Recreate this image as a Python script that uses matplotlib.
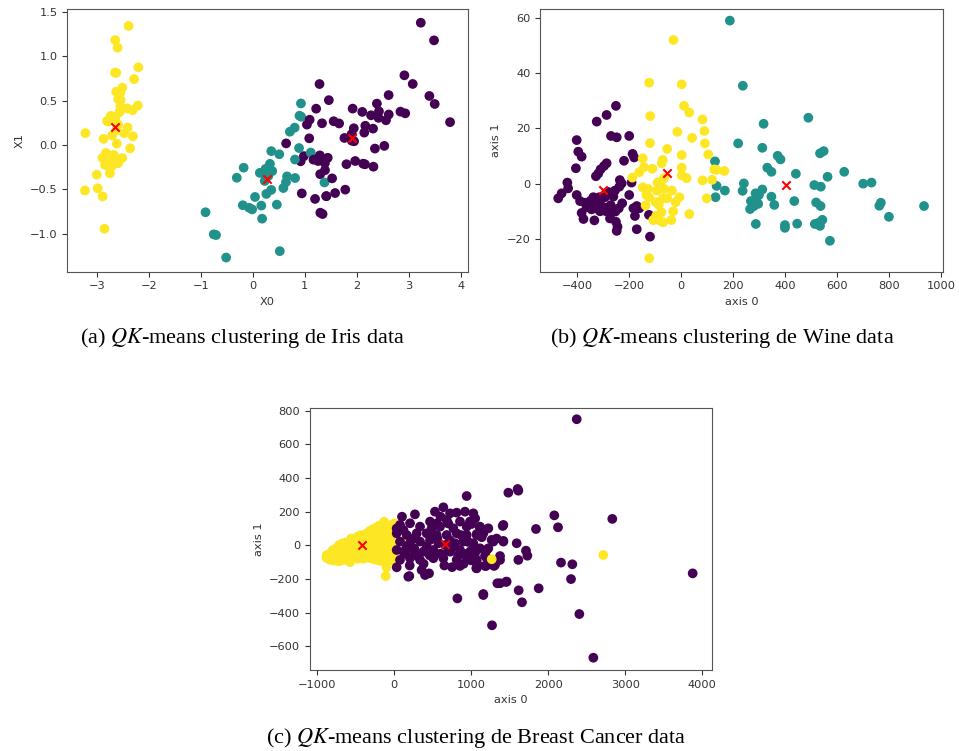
import matplotlib
matplotlib.use('Agg')
import matplotlib.pyplot as plt
import numpy as np

plt.rcParams['font.family'] = ['DejaVu Sans']
plt.rcParams['mathtext.fontset'] = 'stix'

# ---------------- (a) Iris ----------------
iris_x0 = [
    -2.684, -2.714, -2.889, -2.745, -2.729, -2.281, -2.821, -2.626, -2.886, -2.673,
    -2.507, -2.613, -2.787, -3.225, -2.644, -2.386, -2.624, -2.648, -2.199, -2.587,
    -2.311, -2.544, -3.216, -2.303, -2.356, -2.507, -2.469, -2.562, -2.640, -2.633,
    -2.588, -2.410, -2.648, -2.597, -2.673, -2.867, -2.625, -2.800, -2.980, -2.590,
    -2.770, -2.850, -2.998, -2.406, -2.209, -2.715, -2.538, -2.840, -2.543, -2.703,
    1.285, 0.932, 1.464, 0.181, 1.087, 0.640, 1.095, -0.749, 1.043, -0.010,
    -0.511, 0.511, 0.262, 0.984, -0.174, 0.928, 0.660, 0.236, 0.944, 0.045,
    1.116, 0.357, 1.298, 0.922, 0.715, 0.900, 1.333, 1.557, 0.813, -0.306,
    -0.068, -0.190, 0.137, 1.380, 0.589, 0.807, 1.220, 0.815, 0.246, 0.166,
    0.464, 0.891, 0.231, -0.705, 0.357, 0.332, 0.376, 0.643, -0.907, 0.300,
    2.531, 1.415, 2.616, 1.971, 2.350, 3.397, 0.521, 2.933, 2.321, 2.917,
    1.662, 1.803, 2.165, 1.344, 1.585, 1.905, 1.949, 3.487, 3.795, 1.300,
    2.428, 1.199, 3.500, 1.388, 2.276, 2.614, 1.258, 1.291, 2.123, 2.388,
    2.841, 3.232, 2.159, 1.443, 1.780, 3.077, 2.145, 1.905, 1.169, 2.107,
    2.314, 1.922, 1.415, 2.563, 2.419, 1.944, 1.527, 1.764, 1.901, 1.390]
iris_x1 = [
    0.319, -0.177, -0.145, -0.318, 0.327, 0.741, -0.089, 0.163, -0.578, -0.114,
    0.645, 0.015, -0.235, -0.511, 1.179, 1.338, 0.811, 0.312, 0.873, 0.514,
    0.391, 0.433, 0.133, 0.098, -0.037, -0.146, 0.131, 0.368, 0.312, -0.196,
    -0.204, 0.411, 0.813, 1.093, -0.114, 0.069, 0.599, 0.269, -0.487, 0.229,
    0.264, -0.941, -0.334, 0.196, 0.443, -0.243, 0.504, -0.223, 0.588, 0.107,
    0.685, 0.318, 0.504, -0.828, 0.075, -0.418, 0.284, -1.004, 0.229, -0.724,
    -1.265, -0.104, -0.550, -0.125, -0.255, 0.467, -0.353, -0.333, -0.544, -0.584,
    -0.085, -0.069, -0.328, -0.183, 0.149, 0.329, 0.244, 0.267, -0.163, -0.368,
    -0.706, -0.677, -0.313, -0.421, -0.484, 0.195, 0.408, -0.371, -0.269, -0.681,
    -0.670, -0.034, -0.404, -1.012, -0.505, -0.212, -0.293, 0.018, -0.756, -0.349,
    -0.010, -0.575, 0.343, -0.180, -0.040, 0.551, -1.193, 0.356, -0.244, 0.783,
    0.242, -0.216, 0.216, -0.776, -0.540, 0.120, 0.042, 1.176, 0.257, -0.761,
    0.378, -0.606, 0.461, -0.204, 0.334, 0.561, -0.180, -0.117, -0.210, 0.465,
    0.375, 1.374, -0.217, -0.144, -0.502, 0.686, 0.139, 0.049, -0.165, 0.372,
    0.184, 0.409, -0.575, 0.278, 0.305, 0.188, -0.375, 0.079, 0.117, -0.283]
iris_cluster = [
    2, 2, 2, 2, 2, 2, 2, 2, 2, 2, 2, 2, 2, 2, 2, 2, 2, 2, 2, 2, 2, 2, 2, 2, 2,
    2, 2, 2, 2, 2, 2, 2, 2, 2, 2, 2, 2, 2, 2, 2, 2, 2, 2, 2, 2, 2, 2, 2, 2, 2,
    0, 1, 0, 1, 0, 1, 0, 1, 0, 1, 1, 1, 1, 0, 1, 1, 1, 1, 0, 1, 1, 1, 0, 0, 1,
    1, 0, 0, 1, 1, 1, 1, 1, 1, 1, 1, 0, 1, 1, 1, 1, 1, 1, 1, 1, 1, 1, 0, 1, 1,
    0, 0, 0, 0, 0, 0, 1, 0, 0, 0, 0, 0, 0, 0, 0, 0, 0, 0, 0, 0, 0, 0, 0, 0, 0,
    0, 0, 0, 0, 0, 0, 0, 0, 0, 0, 0, 0, 0, 0, 0, 0, 0, 0, 0, 0, 0, 0, 0, 0, 0]
iris_centroid_x0 = [1.90, 0.27, -2.648]
iris_centroid_x1 = [0.075, -0.385, 0.206]

# ---------------- (b) Wine ----------------
wine_purple_x = [-250, -286, -324, -269, -247, -199, -401, -395, -382, -404, -219, -186, -180,
                 -286, -296, -309, -318, -327, -437, -434, -459, -472, -401, -388, -369, -349,
                 -337, -314, -363, -344, -324, -305, -288, -270, -260, -280, -254, -235, -228,
                 -237, -190, -199, -226, -239, -252, -269, -273, -250, -244, -247, -170, -160,
                 -183, -177, -123, -119, -170, -333, -375, -382, -292, -305, -311, -288, -314, -337]
wine_purple_y = [28.2, 24.9, 22.5, 17.3, 16.8, 17.3, 15.8, 11.6, 9.8, 5.6, 8.3, 10.8, 9.5,
                 7.4, 6.4, 5.2, 3.7, 2.7, 0.4, -1.7, -3.5, -5.3, -4.1, -6.3, -6.9, -6.3,
                 -7.5, -7.3, -8.5, -9.3, -9.0, -8.5, -8.7, -7.8, -4.7, -3.0, -2.5, 1.3, 0.1,
                 -1.1, 0.4, -4.1, -7.1, -8.9, -10.1, -10.7, -12.6, -13.8, -15.6, -17.1, -8.1, -8.9,
                 -8.9, -11.7, -11.3, -19.2, -16.5, -13.3, -12.8, -10.6, -4.9, -5.5, -10.0, -10.0, -4.9, -4.9]
wine_teal_x = [188, 238, 490, 318, 220, 313, 372, 383, 535, 549, 332, 348, 442, 564, 628, 242,
               169, 237, 287, 313, 300, 348, 269, 291, 281, 297, 266, 359, 436, 513, 538, 520,
               537, 701, 733, 763, 769, 800, 935, 288, 400, 400, 447, 515, 531, 544, 535, 573,
               131, 137, 133]
wine_teal_y = [59.1, 35.5, 23.9, 21.7, 14.6, 13.0, 10.1, 8.8, 11.0, 11.8, 5.8, 4.3, 3.6, 2.5, 4.3, 0.1,
               -2.5, -2.6, -3.5, -2.1, -4.1, -4.7, -6.3, -6.5, -8.1, -7.3, -9.2, -7.7, -6.3, -0.5, -1.1, -6.8,
               -8.1, 0.0, 0.4, -8.0, -6.9, -12.0, -8.1, -14.6, -15.0, -16.0, -14.5, -14.6, -14.1, -13.1, -15.3, -20.7,
               8.1, -0.8, -4.9]
wine_yellow_x = [-29, -122, 3, 12, 32, 83, 90, -118, -14, 43, 92, -119, -53, 3, 105, -147, -70,
                 -74, 3, 128, -187, -160, -142, -110, -90, -76, -65, 3, 22, 83, 120, -147, -126,
                 -93, -64, -35, -6, -20, -70, -53, -133, -122, -97, -136, -85, 99, -30, 32, -75,
                 -95, -85, -69, -37, -107, -122, 137, 167]
wine_yellow_y = [52.1, 36.6, 36.0, 28.2, 25.8, 23.3, 19.1, 24.5, 18.8, 16.6, 14.6, 14.7, 12.6, 10.4, 10.6, 9.2, 8.6,
                 7.4, 5.8, 5.2, 2.2, 4.2, 6.0, 5.4, 0.4, 0.8, 2.0, 3.0, 2.0, 1.2, 1.4, -1.3, -1.9,
                 -2.5, -1.9, -2.5, -4.9, -6.7, -5.3, -5.3, -4.1, -5.0, -6.7, -7.9, -7.7, -5.3, -10.0, -11.0, -10.4,
                 -11.6, -13.2, -14.0, -13.2, -13.2, -27.0, 5.0, 4.6]
wine_centroid_x = [-301, 403, -53]
wine_centroid_y = [-2.3, -0.3, 3.8]

# ---------------- (c) Breast cancer ----------------
bc_yellow_x = [-880, -880, -840, -840, -800, -800, -800, -760, -760, -760,
               -720, -720, -720, -720, -680, -680, -680, -680, -640, -640, -640, -640,
               -600, -600, -600, -600, -575, -560, -560, -560, -560, -560,
               -520, -520, -520, -520, -480, -480, -480, -480, -480,
               -440, -440, -440, -440, -440, -400, -400, -400, -400, -400,
               -360, -360, -360, -360, -360, -320, -320, -320, -320, -320, -320,
               -280, -280, -280, -280, -280, -280, -240, -240, -240, -240, -240, -240, -240,
               -200, -200, -200, -200, -200, -200, -200, -160, -160, -160, -160, -160, -160, -160,
               -134, -120, -120, -120, -120, -120, -120, -120, -112, -100,
               -80, -80, -80, -80, -80, -80, -80, -40, -40, -40, -40, -40, -40, -40,
               0, 0, 0, 0, 20, 152]
bc_yellow_y = [-75, -60, -85, -50, -90, -60, -30, -90, -55, -20,
               -95, -60, -25, 0, -90, -55, -20, 10, -85, -50, -15, 15,
               -90, -55, -20, 15, -100, -80, -45, -10, 25, 40,
               -75, -40, -5, 30, -80, -45, -10, 25, 50,
               -75, -40, -5, 30, 60, -80, -45, -10, 25, 60,
               -70, -35, 0, 35, 70, -75, -40, -5, 30, 65, 85,
               -80, -45, -10, 25, 60, 95, -85, -50, -15, 20, 55, 90, 105,
               -90, -55, -20, 15, 50, 85, 115, -95, -60, -25, 10, 45, 80, 115,
               140, -100, -65, -30, 5, 40, 75, 110, -183, -131,
               -95, -60, -25, 10, 45, 80, 115, -90, -55, -20, 15, 50, 85, 120,
               -80, -45, 130, 100, 120, 42]
bc_purple_x = [940, 268, 528, 637, 724, 810, 918, 1026, 464, 680, 853, 983, 74, 204, 334, 485,
               594, 767, 940, 1113, 1221, 1416, 1481, 1611, 31, 161, 290, 420, 550, 680, 810,
               940, 1070, 1156, 1286, 1416, 74, 204, 334, 464, 572, 667, 788, 896, 1026, 31,
               118, 247, 377, 507, 724, 853, 983, 1113, 1200, 74, 204, 334, 507, 637, 810, 940,
               1070, 1200, 1373, 31, 182, 355, 399, 853, 1070, 1178, 1308, 1373, 1459, 1156, 819,
               1611, 195, 451,
               2369, 1602, 2078, 2831, 1408, 1840, 2126, 1589, 1710, 1728, 2165, 2312, 2295,
               1338, 1450, 1615, 1875, 1156, 1658, 2403, 1269, 2585, 3875, 1373, 1295, 1191,
               1065, 1074, 1048, 1178, 1221, 1264, 1329, 1416, 1110, 1156, 1070, 1005, 1005,
               1135, 30, 120, 160, 250, 290, 420, 460, 550, 600, 700, 720, 760, 830, 870, 900,
               960, 1000, 100, 200, 600, 650, 750, 900, 1050, 380, 260, 560, 700, 140, 480]
bc_purple_y = [293, 184, 200, 226, 190, 194, 200, 190, 141, 151, 141, 141, 121, 131, 111, 101,
               111, 101, 111, 111, 101, 121, 313, 325, 71, 61, 71, 71, 61, 61, 71,
               61, 61, 71, 22, 22, 22, 12, 22, 32, 12, 2, 12, 22, 12, -28,
               -38, -28, -38, -28, -38, -28, -38, -18, -28, -87, -77, -87, -77, -77, -87, -68,
               -87, -77, -87, -131, -187, -147, -177, -123, -137, -123, -117, -226, -216, -296, -316,
               -87, -183, -167,
               750, 335, 178, 157, 115, 97, 107, 12, -32, -62, -103, -113, -201,
               -226, -218, -268, -256, -290, -339, -409, -476, -669, -167, -64, -123, -123,
               -136, -107, -48, -62, -18, 32, 40, 26, 107, 87, 67, 127, -32,
               48, 100, 90, -5, 40, -60, -5, -60, 130, -50, 130, 30, -10, -60, 60, -50,
               20, -90, 170, -120, 170, -120, -130, -110, 160, -110, -20, 40, -30, -50, 45]
bc_extra_yellow_x = [1265, 2714]
bc_extra_yellow_y = [-83, -58]
bc_centroid_x = [659, -424]
bc_centroid_y = [6, 2]

# ---------------- figure ----------------
fig = plt.figure(figsize=(9.59, 7.51), dpi=100)
W, H = 959, 751


def make_ax(l, t, r, b):
    return fig.add_axes([l / W, 1 - b / H, (r - l) / W, (b - t) / H])


ax_a = make_ax(67.3, 9.3, 468, 271.7)
ax_b = make_ax(540.3, 9.3, 943, 271.7)
ax_c = make_ax(310, 408.3, 712, 670)

FS = 8.2
cmap = 'viridis'

# (a)
ax_a.scatter(iris_x0, iris_x1, c=iris_cluster, cmap=cmap, vmin=0, vmax=2, s=36)
ax_a.scatter(iris_centroid_x0, iris_centroid_x1, c='red', marker='x', s=36)
ax_a.set_xlim(-3.565, 4.14)
ax_a.set_ylim(-1.424, 1.525)
ax_a.set_xticks([-3, -2, -1, 0, 1, 2, 3, 4])
ax_a.set_yticks([-1.0, -0.5, 0.0, 0.5, 1.0, 1.5])
ax_a.set_xlabel('X0', fontsize=FS)
ax_a.set_ylabel('X1', fontsize=FS)

# (b)
wine_x = wine_purple_x + wine_teal_x + wine_yellow_x
wine_y = wine_purple_y + wine_teal_y + wine_yellow_y
wine_lab = [0] * len(wine_purple_x) + [1] * len(wine_teal_x) + [2] * len(wine_yellow_x)
ax_b.scatter(wine_x, wine_y, c=wine_lab, cmap=cmap, vmin=0, vmax=2, s=36)
ax_b.scatter(wine_centroid_x, wine_centroid_y, c='red', marker='x', s=36)
ax_b.set_xlim(-541, 1008)
ax_b.set_ylim(-31.9, 63.2)
ax_b.set_xticks([-400, -200, 0, 200, 400, 600, 800, 1000])
ax_b.set_yticks([-20, 0, 20, 40, 60])
ax_b.set_xlabel('axis 0', fontsize=FS)
ax_b.set_ylabel('axis 1', fontsize=FS)

# (c)
bc_x = bc_yellow_x + bc_purple_x + bc_extra_yellow_x
bc_y = bc_yellow_y + bc_purple_y + bc_extra_yellow_y
bc_lab = [1] * len(bc_yellow_x) + [0] * len(bc_purple_x) + [1] * len(bc_extra_yellow_x)
ax_c.scatter(bc_x, bc_y, c=bc_lab, cmap=cmap, vmin=0, vmax=1, s=36)
ax_c.scatter(bc_centroid_x, bc_centroid_y, c='red', marker='x', s=36)
ax_c.set_xlim(-1095, 4126)
ax_c.set_ylim(-742, 815)
ax_c.set_xticks([-1000, 0, 1000, 2000, 3000, 4000])
ax_c.set_yticks([-600, -400, -200, 0, 200, 400, 600, 800])
ax_c.set_xlabel('axis 0', fontsize=FS)
ax_c.set_ylabel('axis 1', fontsize=FS)

for ax in (ax_a, ax_b, ax_c):
    ax.tick_params(labelsize=FS, colors='#333333')
    for sp in ax.spines.values():
        sp.set_color('#555555')
    ax.xaxis.label.set_color('#333333')
    ax.yaxis.label.set_color('#333333')

cap_kw = dict(fontsize=16, family='Liberation Serif', ha='center', va='center')
fig.text(242 / W, 1 - 338 / H, r'(a) $QK$-means clustering de Iris data', **cap_kw)
fig.text(722 / W, 1 - 338 / H, r'(b) $QK$-means clustering de Wine data', **cap_kw)
fig.text(476 / W, 1 - 738 / H, r'(c) $QK$-means clustering de Breast Cancer data', **cap_kw)

fig.savefig('out.png', dpi=100)
